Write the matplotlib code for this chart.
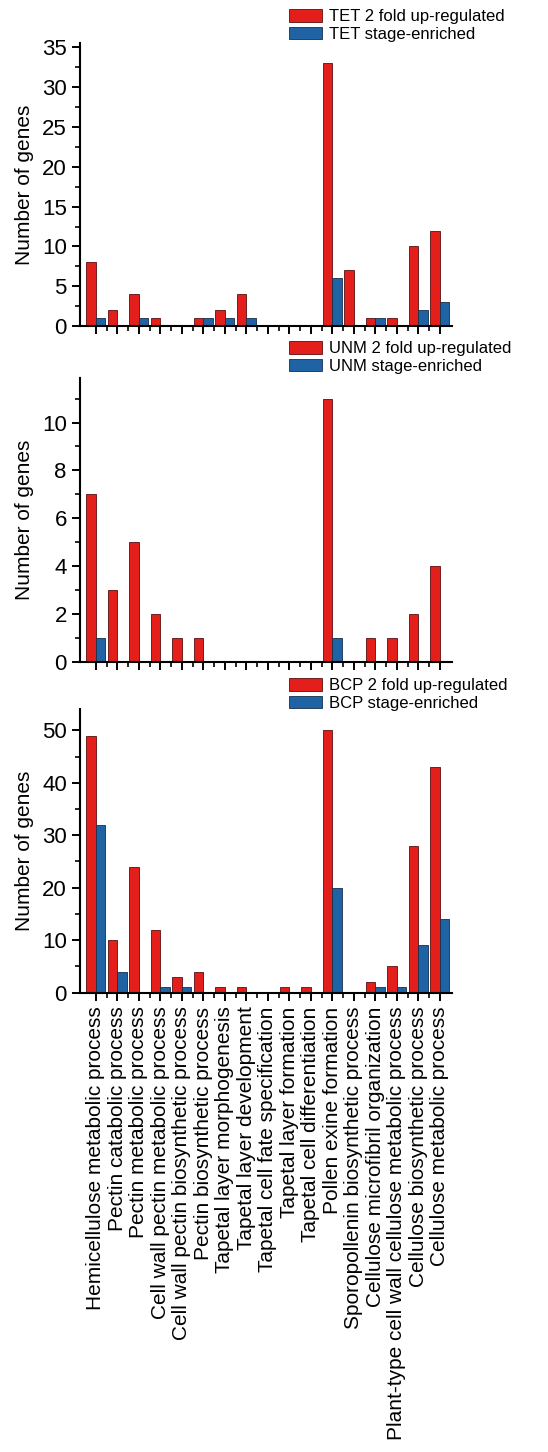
import matplotlib
matplotlib.use("Agg")
import matplotlib.pyplot as plt
import numpy as np
from matplotlib.ticker import MultipleLocator

plt.rcParams["font.family"] = ["Liberation Sans", "DejaVu Sans"]

categories = [
    "Hemicellulose metabolic process",
    "Pectin catabolic process",
    "Pectin metabolic process",
    "Cell wall pectin metabolic process",
    "Cell wall pectin biosynthetic process",
    "Pectin biosynthetic process",
    "Tapetal layer morphogenesis",
    "Tapetal layer development",
    "Tapetal cell fate specification",
    "Tapetal layer formation",
    "Tapetal cell differentiation",
    "Pollen exine formation",
    "Sporopollenin biosynthetic process",
    "Cellulose microfibril organization",
    "Plant-type cell wall cellulose metabolic process",
    "Cellulose biosynthetic process",
    "Cellulose metabolic process",
]

tet_up = [8, 2, 4, 1, 0, 1, 2, 4, 0, 0, 0, 33, 7, 1, 1, 10, 12]
tet_enr = [1, 0, 1, 0, 0, 1, 1, 1, 0, 0, 0, 6, 0, 1, 0, 2, 3]
unm_up = [7, 3, 5, 2, 1, 1, 0, 0, 0, 0, 0, 11, 0, 1, 1, 2, 4]
unm_enr = [1, 0, 0, 0, 0, 0, 0, 0, 0, 0, 0, 1, 0, 0, 0, 0, 0]
bcp_up = [49, 10, 24, 12, 3, 4, 1, 1, 0, 1, 1, 50, 0, 2, 5, 28, 43]
bcp_enr = [32, 4, 0, 1, 1, 0, 0, 0, 0, 0, 0, 20, 0, 1, 1, 9, 14]

RED = "#e41f1b"
BLUE = "#1f63a4"

W, H = 548, 1452
fig = plt.figure(figsize=(W / 100, H / 100), dpi=100)

# (stage, up, enriched, ylim top, major, minor, axes top px, axes bottom px, legend top px)
panels = [
    ("TET", tet_up, tet_enr, 35.6, 5, 2.5, 42.7, 326, 9),
    ("UNM", unm_up, unm_enr, 11.85, 2, 1, 378.3, 661.7, 341),
    ("BCP", bcp_up, bcp_enr, 54, 10, 5, 709.3, 992.7, 678),
]

left_px, right_px = 80, 452
x = np.arange(len(categories))
bw = 0.44

for i, (stage, up, enr, ytop, major, minor, top_px, bot_px, leg_px) in enumerate(panels):
    ax = fig.add_axes([left_px / W, 1 - bot_px / H, (right_px - left_px) / W, (bot_px - top_px) / H])
    ax.bar(x - bw / 2, up, bw, color=RED, edgecolor="#5a1010", linewidth=0.6,
           label=f"{stage} 2 fold up-regulated")
    ax.bar(x + bw / 2, enr, bw, color=BLUE, edgecolor="#15304a", linewidth=0.6,
           label=f"{stage} stage-enriched")
    ax.set_xlim(-0.74, 16.56)
    ax.set_ylim(0, ytop)
    for s in ("top", "right"):
        ax.spines[s].set_visible(False)
    for s in ("left", "bottom"):
        ax.spines[s].set_linewidth(1.5)
    ax.set_xticks(x)
    ax.set_xticks(x[:-1] + 0.5, minor=True)
    ax.yaxis.set_major_locator(MultipleLocator(major))
    ax.yaxis.set_minor_locator(MultipleLocator(minor))
    ax.tick_params(axis="both", which="major", direction="out", length=6, width=1.4, labelsize=16)
    ax.tick_params(axis="both", which="minor", direction="out", length=3.5, width=1.2)
    ax.set_ylabel("Number of genes", fontsize=15, labelpad=6)
    if i < 2:
        ax.set_xticklabels([])
    else:
        ax.set_xticklabels(categories, rotation=90, fontsize=15, ha="center", va="top")
        ax.tick_params(axis="x", which="major", pad=4)
    ax.legend(loc="upper left", bbox_to_anchor=(289 / W, 1 - leg_px / H),
              bbox_transform=fig.transFigure, frameon=False, fontsize=12,
              handlelength=2.0, handleheight=0.8, handletextpad=0.4,
              labelspacing=0.15, borderpad=0, borderaxespad=0)

fig.savefig("out.png", dpi=100)
